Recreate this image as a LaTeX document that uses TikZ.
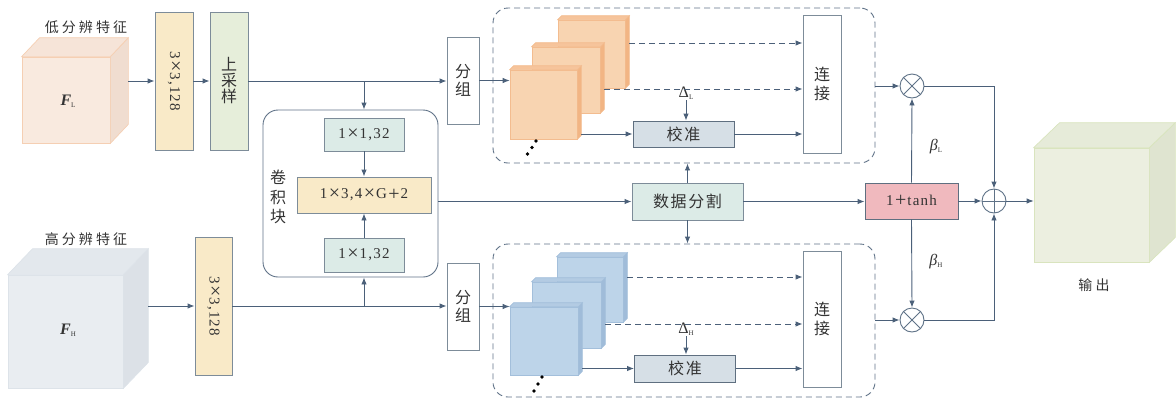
\documentclass[tikz,border=0pt]{standalone}
\usepackage{fontspec}
\setmainfont{Liberation Serif}[LetterSpace=8]
\newfontfamily\cjk{Noto Sans CJK SC}
\newfontfamily\cjkw{Noto Sans CJK SC}[LetterSpace=22]
\newfontfamily\cjkm{Noto Sans CJK SC}[LetterSpace=10]
\usetikzlibrary{arrows.meta}
\definecolor{lnc}{HTML}{4B6079}
\definecolor{bdc}{HTML}{7D8C99}
\definecolor{calb}{HTML}{5F6F80}
\definecolor{dshc}{HTML}{5F7287}
\definecolor{txt}{HTML}{333333}
\definecolor{yel}{HTML}{F9EAC8}
\definecolor{grn}{HTML}{E6EEDA}
\definecolor{teal}{HTML}{DCEBE7}
\definecolor{calf}{HTML}{D6DFE6}
\definecolor{pink}{HTML}{F0B9BE}
\definecolor{FLf}{HTML}{F9EADF}\definecolor{FLs}{HTML}{F0DDD0}\definecolor{FLt}{HTML}{F6E4D8}\definecolor{FLb}{HTML}{F5CFB3}
\definecolor{FHf}{HTML}{E9EDF1}\definecolor{FHs}{HTML}{DCE1E7}\definecolor{FHt}{HTML}{E3E8ED}\definecolor{FHb}{HTML}{DDE3E9}
\definecolor{OUf}{HTML}{ECEFE0}\definecolor{OUs}{HTML}{DFE4D0}\definecolor{OUt}{HTML}{E6EBD9}\definecolor{OUb}{HTML}{D9E4BE}
\definecolor{ORf}{HTML}{F8D4B1}\definecolor{ORs}{HTML}{F2B584}\definecolor{ORt}{HTML}{F6C49B}\definecolor{ORb}{HTML}{F3BC8F}
\definecolor{BLf}{HTML}{BDD4E9}\definecolor{BLs}{HTML}{A0BCD9}\definecolor{BLt}{HTML}{B3CBE3}\definecolor{BLb}{HTML}{A3BFDB}
\newcommand\mytimes{\hspace{1.5pt}\raisebox{-0.8pt}{\fontsize{20}{15}\selectfont ×}\hspace{1pt}}
\newcommand\myplus{\hspace{1.5pt}\raisebox{-1.2pt}{\fontsize{20}{15}\selectfont +}\hspace{1pt}}
% name, dx, dy(up), side, top, border
\newcommand\drawcube[6]{%
  \filldraw[fill=#4,draw=#6,line width=0.7pt] (#1.north east) -- ++(#2,-#3) -- ([shift={(#2,-#3)}]#1.south east) -- (#1.south east) -- cycle;
  \filldraw[fill=#5,draw=#6,line width=0.7pt] (#1.north west) -- ++(#2,-#3) -- ([shift={(#2,-#3)}]#1.north east) -- (#1.north east) -- cycle;}
\newcommand\subl[1]{\raisebox{-2pt}{\fontsize{7}{7}\selectfont #1}}
\begin{document}
\begin{tikzpicture}[x=1pt,y=-1pt,
  font=\fontsize{15}{17}\selectfont,
  ln/.style={draw=lnc, line width=0.9pt},
  arr/.style={ln, -{Latex[length=7pt,width=5.5pt]}},
  darr/.style={arr, dash pattern=on 6pt off 4pt},
  box/.style={draw=bdc, line width=0.9pt, inner sep=0pt, text=txt},
  cubef/.style={line width=0.7pt, inner sep=0pt, text=txt},
  dbox/.style={draw=dshc, line width=0.9pt, dash pattern=on 6pt off 4pt, rounded corners=15pt, inner sep=0pt},
  vtxt/.style={align=center, font=\cjk\fontsize{16}{#1}\selectfont},
  lab/.style={text=txt, font=\cjkw\fontsize{14}{15}\selectfont},
  circ/.style={circle, draw=dshc, line width=0.9pt, fill=white, minimum size=24pt, inner sep=0pt}]
\useasboundingbox (0,0) rectangle (1176,400);

% ---------- input cubes ----------
\node[cubef, draw=FLb, fill=FLf, minimum width=88pt, minimum height=86pt] (FL) at (66,100) {};
\drawcube{FL}{18}{19}{FLs}{FLt}{FLb}
\node[text=txt, font=\fontsize{16}{17}\selectfont] at (68,101) {{\bfseries\itshape F}\subl{L}};
\node[lab] (lL) at (86,27) {低分辨特征};

\node[cubef, draw=FHb, fill=FHf, minimum width=115pt, minimum height=113pt] (FH) at (65.5,331.5) {};
\drawcube{FH}{25}{26}{FHs}{FHt}{FHb}
\node[text=txt, font=\fontsize{16}{17}\selectfont] at (68,330) {{\bfseries\itshape F}\subl{H}};
\node[lab] (lH) at (86,239) {高分辨特征};

% ---------- left boxes ----------
\node[box, fill=yel, minimum width=38pt, minimum height=138pt] (c1) at (174,81) {\rotatebox{-90}{3\mytimes3,128}};
\node[box, fill=grn, minimum width=38pt, minimum height=138pt] (up) at (229,81) {};
\node[vtxt=16, text=txt] at (up) {上\\采\\样};
\node[box, fill=yel, minimum width=37pt, minimum height=138pt] (c2) at (213.5,306) {\rotatebox{-90}{3\mytimes3,128}};

% ---------- conv block ----------
\node[box, draw=dshc, rounded corners=15pt, minimum width=175pt, minimum height=167pt] (blk) at (350.5,193.5) {};
\node[box, fill=teal, minimum width=80pt, minimum height=33pt] (i1) at (364,134.5) {1\mytimes1,32};
\node[box, fill=yel, minimum width=134pt, minimum height=36pt] (mid) at (364,195) {1\mytimes3,4\mytimes G\myplus2};
\node[box, fill=teal, minimum width=80pt, minimum height=34pt] (i2) at (364,255) {1\mytimes1,32};
\node[vtxt=19.5, text=txt] (jjk) at (278,197) {卷\\积\\块};

% ---------- group boxes ----------
\node[box, fill=white, minimum width=32pt, minimum height=87pt] (g1) at (463,80.5) {};
\node[vtxt=17.5, text=txt] at (g1) {分\\组};
\node[box, fill=white, minimum width=32pt, minimum height=87pt] (g2) at (463,306.5) {};
\node[vtxt=17.5, text=txt] at (g2) {分\\组};

% ---------- dashed containers ----------
\node[dbox, minimum width=382pt, minimum height=155pt] (d1) at (684,85.5) {};
\node[dbox, minimum width=382pt, minimum height=153pt] (d2) at (684,320.5) {};

% ---------- orange slabs ----------
\node[cubef, draw=ORb, fill=ORf, minimum width=67pt, minimum height=68pt] (s1a) at (591.5,54) {};
\drawcube{s1a}{4}{4}{ORs}{ORt}{ORb}
\node[cubef, draw=ORb, fill=ORf, minimum width=68pt, minimum height=66pt] (s1b) at (566,80) {};
\drawcube{s1b}{4}{4}{ORs}{ORt}{ORb}
\node[cubef, draw=ORb, fill=ORf, minimum width=67pt, minimum height=69pt] (s1c) at (543.5,104.5) {};
\drawcube{s1c}{4}{4}{ORs}{ORt}{ORb}
\fill (536,141) circle (1.8pt) (532,147.5) circle (1.8pt) (527.5,154) circle (1.8pt);

% ---------- blue slabs ----------
\node[cubef, draw=BLb, fill=BLf, minimum width=66pt, minimum height=65pt] (s2a) at (590,289.5) {};
\drawcube{s2a}{4}{4}{BLs}{BLt}{BLb}
\node[cubef, draw=BLb, fill=BLf, minimum width=69pt, minimum height=66pt] (s2b) at (566.5,315) {};
\drawcube{s2b}{4}{4}{BLs}{BLt}{BLb}
\node[cubef, draw=BLb, fill=BLf, minimum width=68pt, minimum height=68pt] (s2c) at (544,341) {};
\drawcube{s2c}{4}{4}{BLs}{BLt}{BLb}
\fill (542,377) circle (1.8pt) (538,384) circle (1.8pt) (534,391) circle (1.8pt);

% ---------- calibration / concat ----------
\node[box, draw=calb, fill=calf, minimum width=101pt, minimum height=26pt, font=\cjkm\fontsize{16}{17}\selectfont] (cal1) at (683.5,134) {校准};
\node[box, draw=calb, fill=calf, minimum width=101pt, minimum height=27pt, font=\cjkm\fontsize{16}{17}\selectfont] (cal2) at (685,368.5) {校准};
\node[box, fill=white, minimum width=38pt, minimum height=138pt] (cat1) at (822,84) {};
\node[vtxt=19.5, text=txt] at (cat1) {连\\接};
\node[box, fill=white, minimum width=38pt, minimum height=136pt] (cat2) at (822,319) {};
\node[vtxt=19.5, text=txt] at (cat2) {连\\接};
\node[text=txt, inner sep=1pt, font=\fontsize{16}{17}\selectfont] (dL) at (686,93) {Δ\subl{L}};
\node[text=txt, inner sep=1pt, font=\fontsize{16}{17}\selectfont] (dH) at (686,329) {Δ\subl{H}};

% ---------- data split, tanh, ops ----------
\node[box, fill=teal, minimum width=111pt, minimum height=37pt, font=\cjkm\fontsize{16}{17}\selectfont] (ds) at (687.5,201.5) {数据分割};
\node[box, draw=calb, fill=pink, minimum width=93pt, minimum height=36pt] (th) at (911.5,201) {1\myplus tanh};
\node[circ] (ot1) at (912,86) {};
\draw[ln, draw=dshc] (ot1.north west) -- (ot1.south east) (ot1.north east) -- (ot1.south west);
\node[circ] (ot2) at (912,320) {};
\draw[ln, draw=dshc] (ot2.north west) -- (ot2.south east) (ot2.north east) -- (ot2.south west);
\node[circ] (op) at (994,201) {};
\draw[ln, draw=dshc] (op.north) -- (op.south) (op.west) -- (op.east);
\node[text=txt, font=\fontsize{16}{17}\selectfont] (bL) at (936,147) {{\itshape β}\subl{L}};
\node[text=txt, font=\fontsize{16}{17}\selectfont] (bH) at (936,262) {{\itshape β}\subl{H}};

% ---------- output cube ----------
\node[cubef, draw=OUb, fill=OUf, minimum width=115pt, minimum height=114pt] (out) at (1091.5,205) {};
\drawcube{out}{26}{25}{OUs}{OUt}{OUb}
\node[lab] (lO) at (1094,285) {输出};

% ---------- connectors ----------
\coordinate (fLo) at ([shift={(18,-19)}]FL.east);
\draw[arr] (fLo) -- (fLo -| c1.west);
\draw[arr] (c1.east) -- (up.west);
\draw[arr] (up.east) -- (g1.west |- up.east);
\draw[arr] (i1 |- up.east) -- (i1 |- blk.north);
\coordinate (fHo) at ([shift={(25,-25.5)}]FH.east);
\draw[arr] (fHo) -- (fHo -| c2.west);
\draw[arr] (c2.east) -- (g2.west |- c2.east);
\draw[arr] (i2 |- c2.east) -- (i2 |- blk.south);
\draw[arr] (i1.south) -- (mid.north);
\draw[arr] (i2.north) -- (mid.south);
\draw[arr] (blk.east |- ds.west) -- (ds.west);
\draw[arr] (ds.north) -- (ds.north |- d1.south);
\draw[arr] (ds.south) -- (ds.south |- d2.north);
\draw[arr] (ds.east) -- (th.west |- ds.east);

% top lane
\draw[arr] (g1.east) -- (s1c.west |- g1.east);
\coordinate (a1) at ([shift={(4,-11)}]s1a.east);
\draw[darr] (a1) -- (a1 -| cat1.west);
\coordinate (a2) at ([shift={(4,9)}]s1b.east);
\draw[darr] (a2) -- (a2 -| cat1.west);
\coordinate (a3) at ([shift={(4,29.5)}]s1c.east);
\draw[arr] (a3) -- (a3 -| cal1.west);
\draw[arr] (cal1.east) -- (cat1.west |- cal1.east);
\draw[arr] (dL.south) -- (dL.south |- cal1.north);
\draw[arr] (d1.east |- ot1.west) -- (ot1.west);

% bottom lane
\draw[arr] (g2.east) -- (s2c.west |- g2.east);
\coordinate (b1) at ([shift={(4,-12.5)}]s2a.east);
\draw[darr] (b1) -- (b1 -| cat2.west);
\coordinate (b2) at ([shift={(4,9)}]s2b.east);
\draw[darr] (b2) -- (b2 -| cat2.west);
\coordinate (b3) at ([shift={(4,27.5)}]s2c.east);
\draw[arr] (b3) -- (b3 -| cal2.west);
\draw[arr] (cal2.east) -- (cat2.west |- cal2.east);
\draw[arr] (dH.south) -- (dH.south |- cal2.north);
\draw[arr] (d2.east |- ot2.west) -- (ot2.west);

% fusion
\draw[arr] (th.north) -- (ot1.south);
\draw[arr] (th.south) -- (ot2.north);
\draw[arr] (th.east) -- (op.west);
\draw[arr] (ot1.east) -| (op.north);
\draw[arr] (ot2.east) -| (op.south);
\draw[arr] (op.east) -- (out.west |- op.east);
\end{tikzpicture}
\end{document}
